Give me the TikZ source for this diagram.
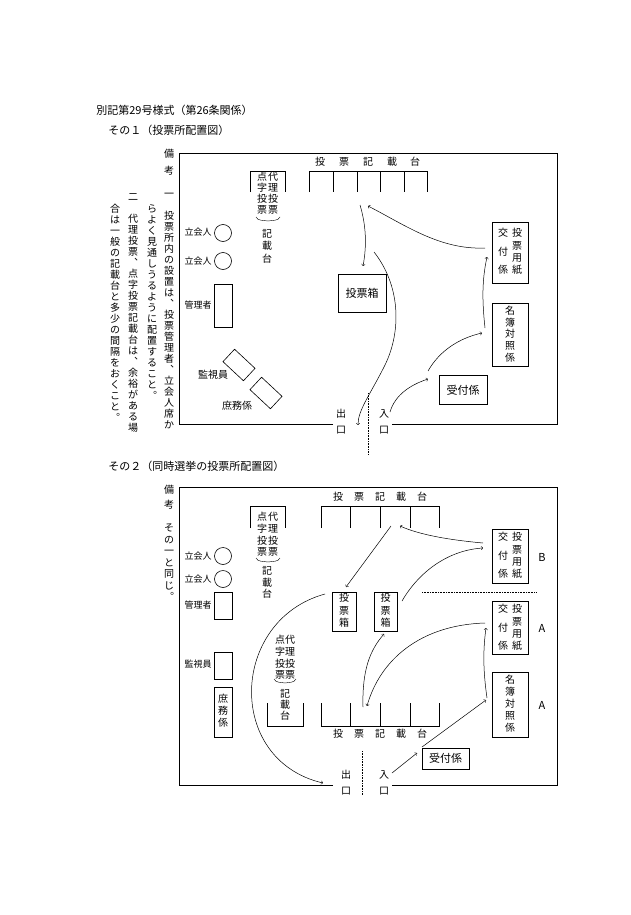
\documentclass[tikz,border=0pt]{standalone}
\usepackage{fontspec}
\setmainfont{Noto Sans CJK JP}
\makeatletter
\newcommand\VT[2][11.5pt]{\vbox{\baselineskip=#1\lineskiplimit=-20pt\@tfor\vt@c:=#2\do{\hbox to 1em{\hss\vt@c\hss}}}}
\makeatother
\begin{document}
\begin{tikzpicture}[x=1pt,y=-1pt,line width=0.6pt,
  every node/.style={inner sep=0pt,font=\fontsize{10}{12}\selectfont},
  vt/.style={anchor=north},
  sm/.style={font=\fontsize{9}{11}\selectfont},
  bx/.style={draw},
  arr/.style={->,>=to,line width=0.5pt},
  dot/.style={densely dotted,line width=0.6pt}]
\useasboundingbox (0,0) rectangle (630,915);
% headers
\node[anchor=west,font=\fontsize{11}{13}\selectfont] (h1) at (96,110) {別記第29号様式（第26条関係）};
\node[anchor=west,font=\fontsize{11}{13}\selectfont] (h2) at (108,130) {その１（投票所配置図）};
\node[anchor=west,font=\fontsize{11}{13}\selectfont] (h3) at (108,466) {その２（同時選挙の投票所配置図）};
% ================= diagram 1
\draw (333,424) -- (179,424) -- (179,153) -- (557,153) -- (557,424) -- (392,424);
\draw[dot] (368,393) -- (368,455);
\node[vt] (o1) at (341,409) {\VT[16pt]{出口}};
\node[vt] (i1) at (384,409) {\VT[16pt]{入口}};
\node[vt] (r0) at (169,149) {\VT[17pt]{備考}};
\node[vt] (r1) at (169,193) {\VT[11pt]{一　投票所内の設置は︑投票管理者︑立会人席か}};
\node[vt] (r2) at (152,204) {\VT[11pt]{らよく見通しうるように配置すること︒}};
\node[vt] (r3) at (133,193) {\VT[11pt]{二　代理投票︑点字投票記載台は︑余裕がある場}};
\node[vt] (r4) at (115,204) {\VT[11pt]{合は一般の記載台と多少の間隔をおくこと︒}};
\foreach \c/\x in {投/320,票/344,記/368,載/392,台/415} \node at (\x,162) {\c};
\draw (309,192) -- (309,171) -- (427,171) -- (427,192);
\foreach \x in {333,357,380,404} \draw (\x,171) -- (\x,192);
\draw (250,192) -- (250,171) -- (285,171) -- (285,192);
\node[vt] (t1a) at (273,172) {\VT[11pt]{代理投票}};
\node[vt] (t1b) at (262,172) {\VT[11pt]{点字投票}};
\draw[line width=0.4pt] (256,217) .. controls (258,221) and (262,220) .. (268,221) .. controls (274,220) and (278,221) .. (280,217);
\node[vt] (t1c) at (267,229) {\VT[12.5pt]{記載台}};
\node[sm] (w1) at (198,232) {立会人};
\node[draw,circle,minimum size=17pt] (c1) at (223,233) {};
\node[sm] (w2) at (198,261) {立会人};
\node[draw,circle,minimum size=17pt] (c2) at (223,261) {};
\node[sm] (m1) at (198,305) {管理者};
\draw (214,284) rectangle (232,327);
\node[draw,minimum width=28pt,minimum height=17pt,rotate=-43] (k1) at (239,365) {};
\node[draw,minimum width=28pt,minimum height=17pt,rotate=-43] (s1) at (266,393) {};
\node (k1t) at (213,375) {監視員};
\node (s1t) at (237,406) {庶務係};
\draw (338,274) rectangle (386,312);
\node[font=\fontsize{11}{13}\selectfont] (bb1) at (362,293) {投票箱};
\draw (492,222) rectangle (528,283);
\node[vt] at (517,228) {\VT[12.3pt]{投票用紙}};
\node[vt] at (503,228) {\VT[18.5pt]{交付係}};
\draw (492,303) rectangle (528,366);
\node[vt] at (510,306) {\VT[11.6pt]{名簿対照係}};
\draw (439,375) rectangle (487,404);
\node[font=\fontsize{11}{13}\selectfont] (u1) at (463,390) {受付係};
\draw[arr] (360,205) .. controls (366,225) and (367,245) .. (363,266);
\draw[arr] (485,248) .. controls (440,250) and (405,225) .. (368,206);
\draw[arr] (374,252) .. controls (400,285) and (402,330) .. (385,365) .. controls (370,395) and (358,410) .. (358,425);
\draw[arr] (390,412) .. controls (395,395) and (410,385) .. (428,379);
\draw[arr] (428,371) .. controls (440,350) and (460,338) .. (482,333);
\draw[arr] (485,328) .. controls (482,300) and (482,280) .. (487,257);
% ================= diagram 2
\draw (333,785) -- (179,785) -- (179,487) -- (557,487) -- (557,785) -- (392,785);
\draw[dot] (362,751) -- (362,795);
\node[vt] (o2) at (346,770) {\VT[16pt]{出口}};
\node[vt] (i2) at (384,770) {\VT[16pt]{入口}};
\node[vt] (q0) at (169,485) {\VT[15pt]{備考}};
\node[vt] (q1) at (169,524) {\VT[11.5pt]{その一と同じ︒}};
\foreach \c/\x in {投/338,票/359,記/380,載/401,台/422} \node at (\x,497) {\c};
\draw (321,528) -- (321,506) -- (439,506) -- (439,528);
\foreach \x in {350,380,410} \draw (\x,506) -- (\x,528);
\draw (250,528) -- (250,506) -- (285,506) -- (285,528);
\node[vt] at (273,512) {\VT[11.7pt]{代理投票}};
\node[vt] at (262,512) {\VT[11.7pt]{点字投票}};
\draw[line width=0.4pt] (256,558) .. controls (258,562) and (262,561) .. (268,562) .. controls (274,561) and (278,562) .. (280,558);
\node[vt] at (267,566) {\VT[11.7pt]{記載台}};
\node[sm] at (198,556) {立会人};
\node[draw,circle,minimum size=17pt] at (223,556) {};
\node[sm] at (198,579) {立会人};
\node[draw,circle,minimum size=17pt] at (223,579) {};
\node[sm] at (198,605) {管理者};
\draw (214,592) rectangle (232,619);
\node[sm] at (198,664) {監視員};
\draw (214,652) rectangle (232,679);
\draw (214,687) rectangle (232,737);
\node[vt] at (223,694) {\VT[11.7pt]{庶務係}};
\draw (267,703) -- (267,726) -- (303,726) -- (303,703);
\node[vt] at (290,635) {\VT[11.7pt]{代理投票}};
\node[vt] at (280,635) {\VT[11.7pt]{点字投票}};
\draw[line width=0.4pt] (274,679) .. controls (276,683) and (280,682) .. (285,683) .. controls (290,682) and (294,683) .. (296,679);
\node[vt] at (285,689) {\VT[11pt]{記載台}};
\draw (321,703) -- (321,726) -- (439,726) -- (439,703);
\foreach \x in {350,380,410} \draw (\x,726) -- (\x,703);
\foreach \c/\x in {投/338,票/359,記/380,載/401,台/422} \node at (\x,734) {\c};
\draw (332,592) rectangle (356,631);
\node[vt] at (344,593) {\VT[12.5pt]{投票箱}};
\draw (374,592) rectangle (397,631);
\node[vt] at (385.5,593) {\VT[12.5pt]{投票箱}};
\draw (492,529) rectangle (528,583);
\node[vt] at (517,532) {\VT[12.3pt]{投票用紙}};
\node[vt] at (503,532) {\VT[18.5pt]{交付係}};
\draw (492,601) rectangle (528,654);
\node[vt] at (517,604) {\VT[12.3pt]{投票用紙}};
\node[vt] at (503,604) {\VT[18.5pt]{交付係}};
\draw (492,672) rectangle (528,737);
\node[vt] at (510,675) {\VT[12pt]{名簿対照係}};
\draw (422,748) rectangle (469,769);
\node[font=\fontsize{11}{13}\selectfont] at (445.5,758.5) {受付係};
\node[font=\fontsize{11}{13}\selectfont] at (542,557) {B};
\node[font=\fontsize{11}{13}\selectfont] at (542,628) {A};
\node[font=\fontsize{11}{13}\selectfont] at (542,705) {A};
\draw[dot] (422,592) -- (537,592);
\draw[arr] (483,543) .. controls (450,540) and (420,535) .. (400,526);
\draw[arr] (391,526) -- (346,587);
\draw[arr] (402,601) .. controls (420,570) and (450,550) .. (483,548);
\draw[arr] (325,594) .. controls (230,620) and (225,760) .. (323,783);
\draw[arr] (363,707) .. controls (362,670) and (370,650) .. (384,634);
\draw[arr] (485,623) .. controls (420,625) and (380,660) .. (367,706);
\draw[arr] (487,698) .. controls (483,670) and (483,650) .. (486,628);
\draw[arr] (422,747) -- (486,700);
\draw[arr] (392,773) -- (417,753);
\end{tikzpicture}
\end{document}
